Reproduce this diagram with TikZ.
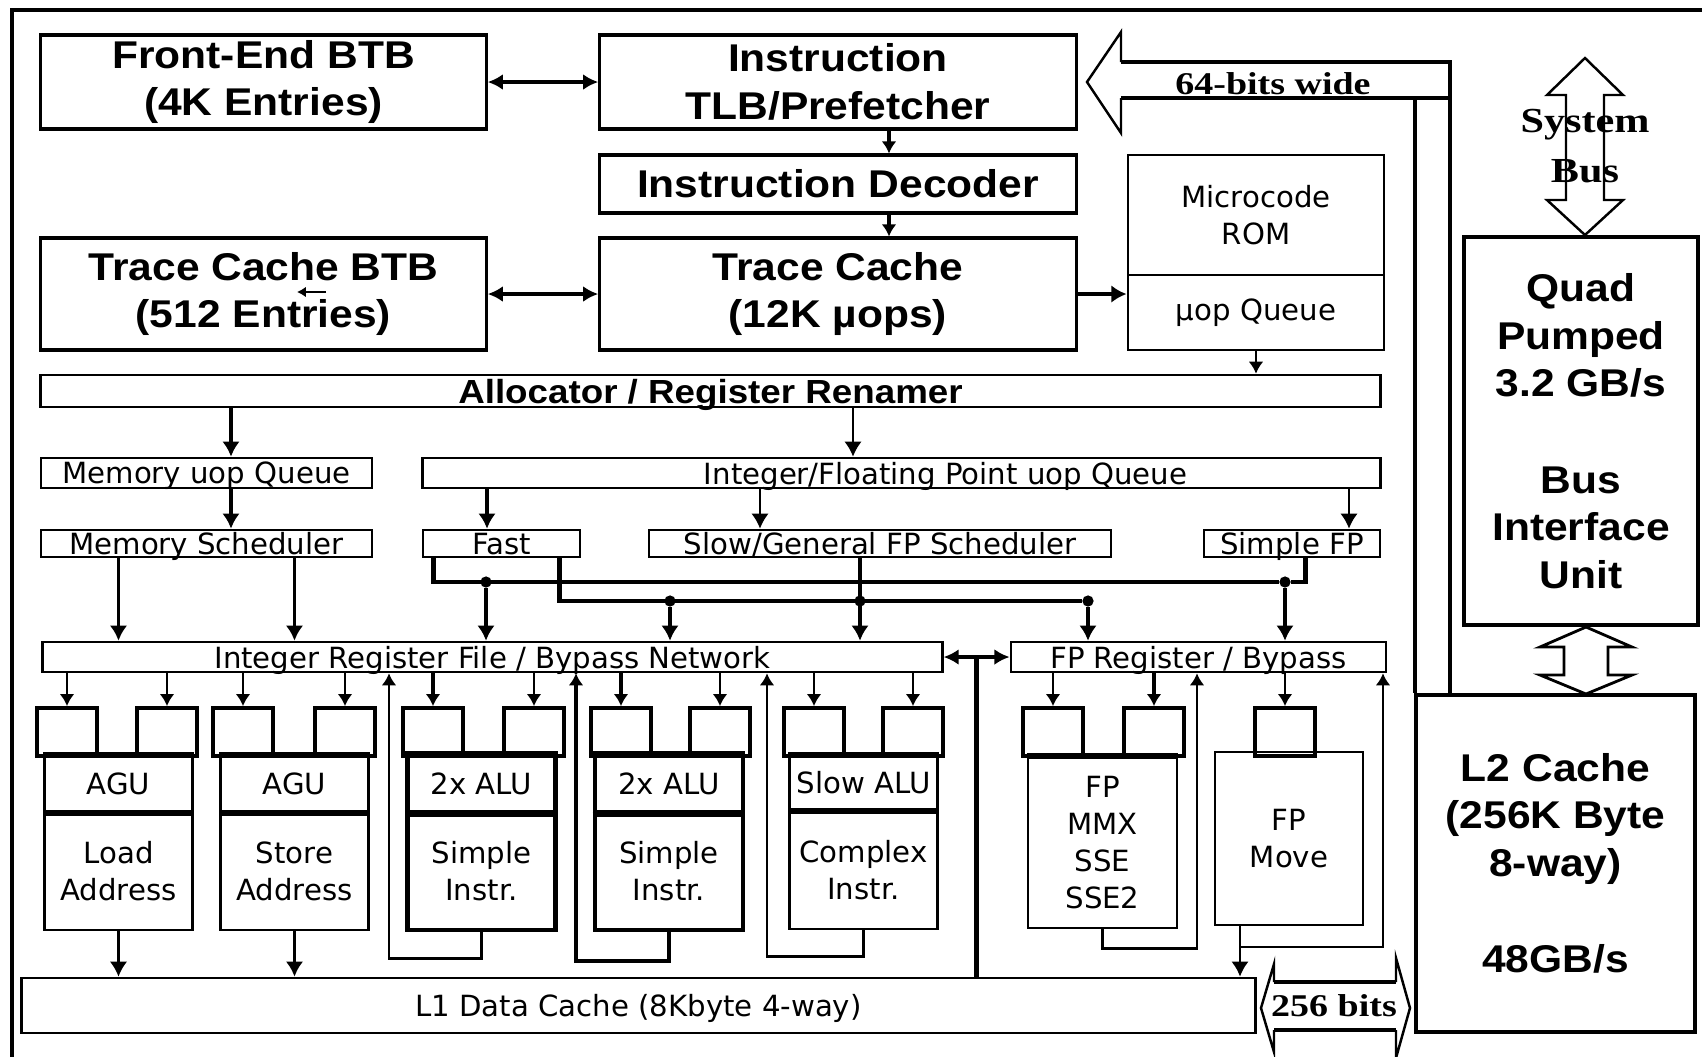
\documentclass[tikz,border=0pt]{standalone}
\usepackage{fontspec}
\setmainfont{Liberation Sans}[FakeStretch=1.1]
\newfontfamily\unitfam{DejaVu Sans}
\newfontfamily\busfam{Liberation Serif}[FakeStretch=1.2]
\usetikzlibrary{arrows.meta}

\newcommand{\bigfont}{\fontsize{11}{13.5}\selectfont\bfseries}
\newcommand{\allocfont}{\fontsize{9.5}{11}\selectfont\bfseries}
\newcommand{\unitfont}{\unitfam\fontsize{8.3}{10.5}\selectfont}
\newcommand{\busfont}{\busfam\fontsize{9}{13}\selectfont\bfseries}
\newcommand{\sysfont}{\busfam\fontsize{10}{13}\selectfont\bfseries}

\tikzset{
  box/.style={draw, line width=0.9pt, inner sep=0pt, align=center, font=\bigfont},
  bar/.style={draw, line width=0.75pt, inner sep=0pt, text depth=0pt, font=\unitfont},
  bartext/.style={inner sep=0pt, text depth=0pt, font=\unitfont},
  unit/.style={draw, line width=0.7pt, inner sep=0pt, align=center, font=\unitfont, minimum width=1.48cm},
  alu/.style={unit, line width=1.3pt},
  port/.style={draw, line width=1.1pt, minimum width=0.6cm, minimum height=0.48cm, inner sep=0pt},
  arr/.style={-{Latex[length=4.3pt,width=5pt]}, line width=0.7pt},
  parr/.style={-{Latex[length=3.4pt,width=4.2pt]}, line width=0.7pt},
  darr/.style={{Latex[length=4.3pt,width=4.5pt]}-{Latex[length=4.3pt,width=4.5pt]}, line width=1.2pt},
  wire/.style={line width=1.4pt},
  fat/.style={line width=1.3pt},
  dot/.style={circle, fill, inner sep=0pt, minimum size=3.2pt},
  buslabel/.style={inner sep=0pt, font=\busfont}
}

\begin{document}
\begin{tikzpicture}[x=0.01cm, y=-0.01cm]
    \useasboundingbox (0,0) rectangle (1702,1056);
    \fill[white] (0,0) rectangle (1702,1056);
    \draw[line width=0.9pt] (12,1070) -- (12,10) -- (1720,10);

    % front end
    \node[box, minimum width=4.45cm, minimum height=0.94cm] (febtb) at (263.5,82) {Front-End BTB\\(4K Entries)};
    \node[box, minimum width=4.76cm, minimum height=0.94cm] (itlb) at (838,82) {Instruction\\TLB/Prefetcher};
    \node[box, minimum width=4.76cm, minimum height=0.58cm] (idec) at (838,184) {Instruction Decoder};
    \node[box, minimum width=4.45cm, minimum height=1.12cm] (tcbtb) at (263.5,294) {Trace Cache BTB\\(512 Entries)};
    \node[box, minimum width=4.76cm, minimum height=1.12cm] (tc) at (838,294) {Trace Cache\\(12K µops)};
    \node[unit, line width=0.8pt, minimum width=2.56cm, minimum height=1.2cm] (urom) at (1256,215) {Microcode\\ROM};
    \node[unit, line width=0.8pt, minimum width=2.56cm, minimum height=0.75cm] (uq) at (1256,312.5) {µop Queue};

    \coordinate (cDec) at (889,0);
    \draw[darr] (febtb.east) -- (itlb.west);
    \draw[darr] (tcbtb.east) -- (tc.west);
    \draw[parr, line width=1pt] (itlb.south -| cDec) -- (idec.north -| cDec);
    \draw[parr, line width=1pt] (idec.south -| cDec) -- (tc.north -| cDec);
    \draw[arr, line width=1.4pt] (tc.east) -- (tc.east -| uq.west);
    \draw[-{Latex[length=2.5pt,width=3pt]}, line width=0.8pt] (326,292) -- (297,292);

    % allocation and queues
    \node[bar, font=\allocfont, minimum width=13.39cm, minimum height=0.32cm] (alloc) at (710.5,391) {Allocator / Register Renamer};
    \node[bar, minimum width=3.31cm, minimum height=0.3cm] (memq) at (206.5,473) {Memory uop Queue};
    \node[bar, minimum width=9.57cm, minimum height=0.3cm, label={[bartext, xshift=0.44cm]center:Integer/Floating Point uop Queue}] (ifq) at (901.5,473) {};
    \node[bar, minimum width=3.31cm, minimum height=0.27cm] (memsch) at (206.5,543.5) {Memory Scheduler};
    \node[bar, minimum width=1.57cm, minimum height=0.27cm] (fast) at (501.5,543.5) {Fast};
    \node[bar, minimum width=4.62cm, minimum height=0.27cm] (slowsch) at (880,543.5) {Slow/General FP Scheduler};
    \node[bar, minimum width=1.76cm, minimum height=0.27cm] (sfp) at (1292,543.5) {Simple FP};
    \node[bar, minimum width=8.99cm, minimum height=0.3cm] (irf) at (492.5,657) {Integer Register File / Bypass Network};
    \node[bar, minimum width=3.75cm, minimum height=0.3cm] (fprf) at (1198.5,657) {FP Register / Bypass};

    \coordinate (cMem) at (231,0);
    \coordinate (cIq) at (853,0);
    \coordinate (cFast) at (487,0);
    \coordinate (cSlow) at (760,0);
    \coordinate (cSfp) at (1349,0);
    \draw[parr] (uq.south) -- (uq.south |- alloc.north);
    \draw[arr, line width=1.1pt] (alloc.south -| cMem) -- (memq.north -| cMem);
    \draw[arr, line width=1.1pt] (memq.south -| cMem) -- (memsch.north -| cMem);
    \draw[arr] (alloc.south -| cIq) -- (ifq.north -| cIq);
    \draw[arr, line width=1.1pt] (ifq.south -| cFast) -- (fast.north -| cFast);
    \draw[arr] (ifq.south -| cSlow) -- (slowsch.north -| cSlow);
    \draw[arr] (ifq.south -| cSfp) -- (sfp.north -| cSfp);

    % execution units
    \node[unit, minimum height=0.56cm] (ldh) at (118.5,784) {AGU};
    \node[unit, minimum height=1.18cm] (ldb) at (118.5,871) {Load\\Address};
    \node[unit, minimum height=0.56cm] (sth) at (294.5,784) {AGU};
    \node[unit, minimum height=1.18cm] (stb) at (294.5,871) {Store\\Address};
    \node[alu, minimum height=0.56cm] (a1h) at (481.5,784) {2x ALU};
    \node[alu, minimum height=1.18cm] (a1b) at (481.5,871) {Simple\\Instr.};
    \node[alu, minimum height=0.56cm] (a2h) at (669,784) {2x ALU};
    \node[alu, minimum height=1.18cm] (a2b) at (669,871) {Simple\\Instr.};
    \node[unit, minimum height=0.54cm] (slh) at (863.5,783) {Slow ALU};
    \node[unit, minimum height=1.17cm] (slb) at (863.5,870.5) {Complex\\Instr.};
    \node[unit, minimum width=1.49cm, minimum height=1.71cm] (fpu) at (1102.5,842.5) {FP\\MMX\\SSE\\SSE2};
    \node[unit, minimum height=1.73cm] (fpm) at (1289,838.5) {FP\\Move};
    \foreach \u in {ldh,sth,a1h,a2h,slh}
        \draw[line width=1.6pt] (\u.north west) -- (\u.north east) (\u.south west) -- (\u.south east);
    \draw[line width=1.6pt] (fpu.north west) -- (fpu.north east);

    \node[port] (pla) at (67,732) {};
    \node[port] (plb) at (167,732) {};
    \node[port] (psa) at (243,732) {};
    \node[port] (psb) at (345,732) {};
    \node[port] (pa1a) at (433,732) {};
    \node[port] (pa1b) at (534,732) {};
    \node[port] (pa2a) at (621,732) {};
    \node[port] (pa2b) at (720,732) {};
    \node[port] (psla) at (814,732) {};
    \node[port] (pslb) at (913,732) {};
    \node[port] (pfa) at (1053,732) {};
    \node[port] (pfb) at (1154,732) {};
    \node[port] (pm) at (1285,732) {};
    \foreach \p in {pla,plb,psa,psb,pa1b,pa2b,psla,pslb}
        \draw[parr] (irf.south -| \p.north) -- (\p.north);
    \foreach \p in {pa1a,pa2a}
        \draw[parr, line width=1.3pt] (irf.south -| \p.north) -- (\p.north);
    \foreach \p in {pfa,pm}
        \draw[parr] (fprf.south -| \p.north) -- (\p.north);
    \draw[parr, line width=1.3pt] (fprf.south -| pfb.north) -- (pfb.north);

    % scheduler wiring
    \draw[arr, line width=1.1pt] (memsch.south -| ldh) -- (irf.north -| ldh);
    \draw[arr, line width=1.1pt] (memsch.south -| sth) -- (irf.north -| sth);
    \node[dot] (d1) at (486,582) {};
    \node[dot] (d2) at (670,601) {};
    \node[dot] (d3) at (860,601) {};
    \node[dot] (d4) at (1088,601) {};
    \node[dot] (d5) at (1285,582) {};
    \draw[wire] ([xshift=0.12cm]fast.south west) |- (d5) -| ([xshift=1.03cm]sfp.south west);
    \draw[wire] ([xshift=-0.22cm]fast.south east) |- (d4);
    \draw[arr, line width=0.9pt] (d1) -- (d1 |- irf.north);
    \draw[arr, line width=0.9pt] (d2) -- (d2 |- irf.north);
    \draw[arr, line width=1.1pt] (slowsch.south -| d3) -- (d3 |- irf.north);
    \draw[arr, line width=0.9pt] (d4) -- (d4 |- fprf.north);
    \draw[arr, line width=0.9pt] (d5) -- (d5 |- fprf.north);

    % L1 and write back
    \node[bar, minimum width=12.33cm, minimum height=0.55cm] (l1) at (638.5,1005.5) {L1 Data Cache (8Kbyte 4-way)};
    \draw[darr] (irf.east) -- coordinate (mid) (fprf.west);
    \draw[fat] (mid) -- (mid |- l1.north);
    \draw[arr] (ldb.south) -- (l1.north -| ldb);
    \draw[arr, line width=1pt] (stb.south) -- (l1.north -| stb);

    \coordinate (r1) at (389,0);
    \coordinate (r2) at (576,0);
    \coordinate (r3) at (767,0);
    \coordinate (r4) at (1197,0);
    \coordinate (r5) at (1383,0);
    \coordinate (r6) at (1240,0);
    \coordinate (j6) at (1240,947);
    \draw[parr, line width=0.8pt] (a1b.south) -- ++(0,26) -| (irf.south -| r1);
    \draw[parr, line width=1.1pt] (a2b.south) -- ++(0,29) -| (irf.south -| r2);
    \draw[parr, line width=0.8pt] (slb.south) -- ++(0,26) -| (irf.south -| r3);
    \draw[parr, line width=0.8pt] (fpu.south) -- ++(0,19) -| (fprf.south -| r4);
    \draw[arr, line width=0.8pt] (fpm.south -| r6) -- (l1.north -| r6);
    \draw[parr, line width=0.8pt] (j6) -| (fprf.south -| r5);

    % bus interface and L2
    \node[box, line width=1.3pt, minimum width=2.34cm, minimum height=3.88cm] (biu) at (1581,431) {Quad\\Pumped\\3.2 GB/s\\[14pt]Bus\\Interface\\Unit};
    \node[box, line width=1.3pt, minimum width=2.79cm, minimum height=3.37cm] (l2) at (1555.5,863.5) {L2 Cache\\(256K Byte\\8-way)\\[14pt]48GB/s};

    \coordinate (busR) at (1450,62);
    \coordinate (busL) at (1415,98);
    \draw[line width=0.7pt] (1121,62) -- (1121,32) -- (1087,82) -- (1121,133) -- (1121,98);
    \draw[fat] (1121,62) -- (busR) -- (busR |- l2.north);
    \draw[fat] (1121,98) -- (busR |- busL);
    \draw[fat] (busL) -- (busL |- l2.north);
    \node[buslabel] (w64) at (1273,84) {64-bits wide};

    \draw[line width=0.7pt] (1585,58) -- (1623,95) -- (1604,95) -- (1604,200) -- (1623,200) -- (1585,235)
        -- (1547,200) -- (1566,200) -- (1566,95) -- (1547,95) -- cycle;
    \node[buslabel, font=\sysfont] (sysa) at (1585,125) {System};
    \node[buslabel, font=\sysfont] (sysb) at (1585,171) {Bus};

    \draw[line width=0.8pt] (1586,627) -- (1632,647) -- (1608,647) -- (1608,675) -- (1632,675) -- (1586,694)
        -- (1540,675) -- (1564,675) -- (1564,647) -- (1540,647) -- cycle;

    \draw[line width=0.7pt] (1274,982) -- (1274,964) -- (1261,1008) -- (1274,1052) -- (1274,1030);
    \draw[line width=0.7pt] (1396,982) -- (1396,958) -- (1410,1008) -- (1396,1058) -- (1396,1030);
    \draw[fat] (1274,982) -- (1396,982);
    \draw[fat] (1274,1030) -- (1396,1030);
    \node[buslabel] (w256) at (1334,1006) {256 bits};
\end{tikzpicture}
\end{document}
